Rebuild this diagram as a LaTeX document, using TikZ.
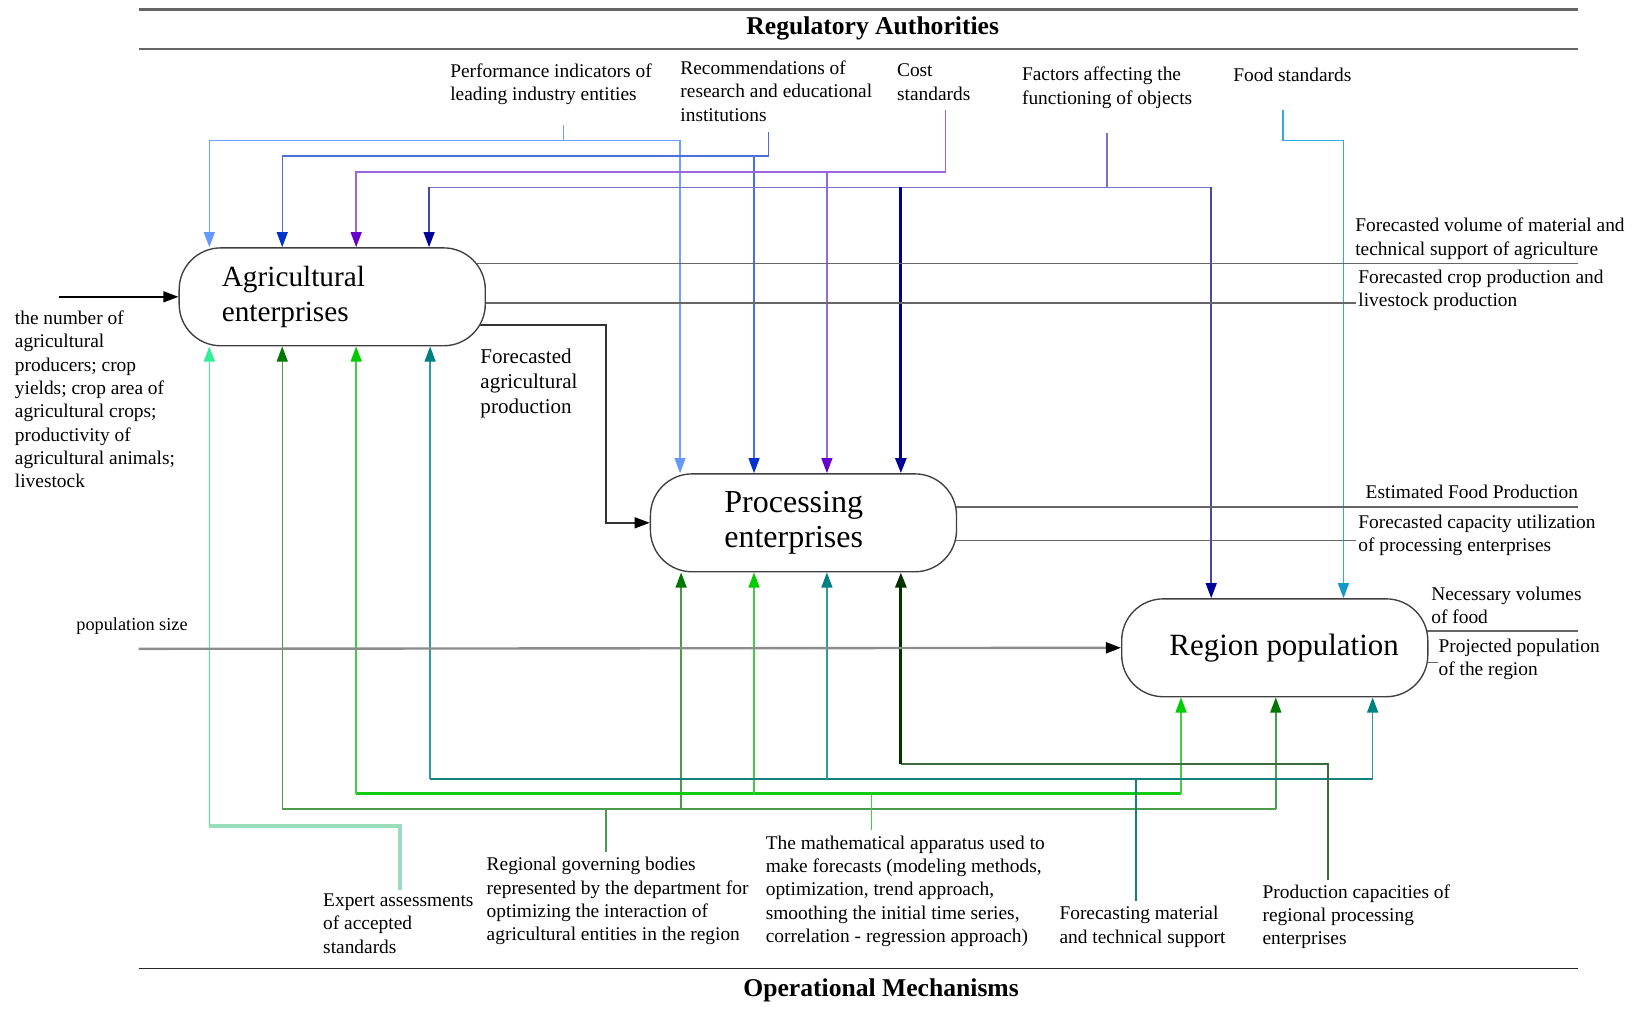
\documentclass[tikz,border=0pt]{standalone}
\usepackage{fontspec}
\setmainfont{Liberation Serif}
\usetikzlibrary{arrows.meta,backgrounds}
\definecolor{cPerf}{HTML}{6FA0FF}
\definecolor{cPerfA}{HTML}{6699FF}
\definecolor{cRec}{HTML}{4D6FD9}
\definecolor{cRecA}{HTML}{0033CC}
\definecolor{cCost}{HTML}{9966DD}
\definecolor{cCostA}{HTML}{6600CC}
\definecolor{cFacH}{HTML}{7575C8}
\definecolor{cFacV}{HTML}{4848A8}
\definecolor{cFacA}{HTML}{000099}
\definecolor{cFood}{HTML}{33AADD}
\definecolor{cFoodA}{HTML}{1199CC}
\definecolor{cExpV}{HTML}{44EE99}
\definecolor{cExpH}{HTML}{99DDBB}
\definecolor{cExpA}{HTML}{33EE99}
\definecolor{cRegn}{HTML}{4C9A4C}
\definecolor{cRegnA}{HTML}{007700}
\definecolor{cMath}{HTML}{11CC11}
\definecolor{cMathV}{HTML}{44CC44}
\definecolor{cMathA}{HTML}{00CC00}
\definecolor{cFor}{HTML}{118080}
\definecolor{cForV}{HTML}{339999}
\definecolor{cForA}{HTML}{008080}
\definecolor{cProd}{HTML}{3D6B3D}
\definecolor{cProdA}{HTML}{003300}
\begin{document}
\begin{tikzpicture}[x=0.02cm,y=-0.02cm,
  box/.style={draw=black!75, line width=0.75pt, fill=white, rounded corners=0.8cm,
    minimum width=5.88cm, minimum height=1.88cm, inner sep=0pt},
  lbl/.style={anchor=north west, align=left, inner sep=0pt, font=\fontsize{10.6}{12.75}\selectfont},
  titl/.style={inner sep=0pt, font=\fontsize{14}{16}\selectfont\bfseries},
  rulel/.style={draw=black!60, line width=1.3pt},
  outl/.style={draw=black!60, line width=0.9pt},
  con/.style={line width=0.8pt},
  arw/.style={-{Triangle[length=0.29cm,width=0.21cm,color=#1,fill=#1]}}
]
\useasboundingbox (0,0) rectangle (1568,968);

% rules and titles
\draw[rulel] (133,9) -- (1515,9);
\draw[rulel] (133,47) -- (1515,47);
\draw[draw=black!85, line width=1pt] (133,930) -- (1515,930);
\node[titl] (ttop) at (838,27) {Regulatory Authorities};
\node[titl] (tbot) at (846,951) {Operational Mechanisms};

% boxes
\node[box, text width=4.24cm, inner xsep=0.82cm, align=left,
  font=\fontsize{16}{18.8}\selectfont] (agr) at (319,285) {Agricultural\\enterprises};
\node[box, text width=3.04cm, inner xsep=1.42cm, align=left,
  font=\fontsize{17.5}{19.2}\selectfont] (proc) at (771.5,502) {Processing\\enterprises};
\node[box, font=\fontsize{16.9}{18}\selectfont] (reg) at (1224,622) {\hspace*{0.36cm}Region population};

% labels
\node[lbl] (lPerf) at (432,61) {Performance indicators of\\leading industry entities};
\node[lbl] (lRec) at (653,58) {Recommendations of\\research and educational\\institutions};
\node[lbl] (lCost) at (861,61) {Cost\\standards};
\node[lbl] (lFac) at (981,64) {Factors affecting the\\functioning of objects};
\node[lbl] (lFood) at (1184,65) {Food standards};
\node[lbl] (lR1) at (1301,209) {Forecasted volume of material and\\technical support of agriculture};
\node[lbl] (lR2) at (1304,259) {Forecasted crop production and\\livestock production};
\node[lbl] (lR3) at (1311,465) {Estimated Food Production};
\node[lbl] (lR4) at (1304,494) {Forecasted capacity utilization\\of processing enterprises};
\node[lbl] (lR5) at (1374,563) {Necessary volumes\\of food};
\node[lbl] (lR6) at (1381,613) {Projected population\\of the region};
\node[lbl] (lIn) at (14,298) {the number of\\agricultural\\producers; crop\\yields; crop area of\\agricultural crops;\\productivity of\\agricultural animals;\\livestock};
\node[lbl, font=\fontsize{10}{12}\selectfont] (lPop) at (73,593) {population size};
\node[lbl, font=\fontsize{11.5}{13.6}\selectfont] (lAP) at (461,335) {Forecasted\\agricultural\\production};
\node[lbl] (lExp) at (310,858) {Expert assessments\\of accepted\\standards};
\node[lbl] (lRegn) at (467,823) {Regional governing bodies\\represented by the department for\\optimizing the interaction of\\agricultural entities in the region};
\node[lbl] (lMath) at (735,802) {The mathematical apparatus used to\\make forecasts (modeling methods,\\optimization, trend approach,\\smoothing the initial time series,\\correlation - regression approach)};
\node[lbl] (lFor) at (1017,870) {Forecasting material\\and technical support};
\node[lbl] (lProd) at (1212,849) {Production capacities of\\regional processing\\enterprises};

% tap points and free ends
\coordinate (tPerf) at (541,120);
\coordinate (tRec) at (738,127);
\coordinate (tCost) at (908,106);
\coordinate (tFac) at (1063,128);
\coordinate (tFood) at (1232,106);
\coordinate (tExp) at (384,855);
\coordinate (tRegn) at (582,818);
\coordinate (tMath) at (837,797);
\coordinate (tFor) at (1091,865);
\coordinate (tProd) at (1275,845);
\coordinate (inAgr) at (57,285);
\coordinate (inPop) at (133,623);
\coordinate (oR1) at (1515,253);
\coordinate (oR2) at (1302,291);
\coordinate (oR3) at (1515,487);
\coordinate (oR4) at (1302,519);
\coordinate (oR5) at (1515,606);
\coordinate (oR6) at (1381,636);

\begin{scope}[on background layer]
% regulatory inputs
\draw[con,cPerf,arw=cPerfA] (tPerf) |- (201,135) -- (agr.north -| 201,0);
\draw[con,cPerf,arw=cPerfA] (tPerf) |- (653,135) -- (proc.north -| 653,0);
\draw[con,cRec,arw=cRecA] (tRec) |- (271,150) -- (agr.north -| 271,0);
\draw[con,cRec,arw=cRecA] (724,150) -- (proc.north -| 724,0);
\draw[con,cCost,arw=cCostA] (tCost) |- (342,165) -- (agr.north -| 342,0);
\draw[con,cCost,arw=cCostA] (794,165) -- (proc.north -| 794,0);
\draw[con,cFacH] (tFac) -- (1063,180);
\draw[con,cFacH] (412,180) -- (1163,180);
\draw[con,cFacV,arw=cFacA] (412,180) -- (agr.north -| 412,0);
\draw[cFacA,line width=1.6pt,arw=cFacA] (865,180) -- (proc.north -| 865,0);
\draw[con,cFacV,arw=cFacA] (1163,180) -- (reg.north -| 1163,0);
\draw[con,cFood,arw=cFoodA] (tFood) |- (1290,135) -- (reg.north -| 1290,0);

% mechanisms
\draw[cExpH,line width=2pt] (tExp) |- (201,793);
\draw[con,cExpV,arw=cExpA] (201,793) -- (agr.south -| 201,0);
\draw[cRegn,line width=1.2pt] (tRegn) -- (582,777);
\draw[cRegn,line width=1.3pt] (271,777) -- (1225,777);
\draw[con,cRegn,arw=cRegnA] (271,777) -- (agr.south -| 271,0);
\draw[con,cRegn,arw=cRegnA] (654,777) -- (proc.south -| 654,0);
\draw[con,cRegn,arw=cRegnA] (1225,777) -- (reg.south -| 1225,0);
\draw[cMathV,line width=0.8pt] (tMath) -- (837,762);
\draw[cMath,line width=1.6pt] (342,762) -- (1134,762);
\draw[con,cMathV,arw=cMathA] (342,762) -- (agr.south -| 342,0);
\draw[con,cMathV,arw=cMathA] (724,762) -- (proc.south -| 724,0);
\draw[con,cMathV,arw=cMathA] (1134,762) -- (reg.south -| 1134,0);
\draw[cFor,line width=1.2pt] (tFor) -- (1091,748);
\draw[cFor,line width=1.5pt] (413,748) -- (1318,748);
\draw[con,cForV,arw=cForA] (413,748) -- (agr.south -| 413,0);
\draw[con,cForV,arw=cForA] (794,748) -- (proc.south -| 794,0);
\draw[con,cForV,arw=cForA] (1318,748) -- (reg.south -| 1318,0);
\draw[cProd,line width=1.1pt] (tProd) |- (865,734);
\draw[cProdA,line width=1.6pt,arw=cProdA] (865,734) -- (proc.south -| 865,0);

% inputs
\draw[black,line width=0.9pt,arw=black] (inAgr) -- (agr.west);
\draw[black!45,line width=1.3pt,arw=black] (inPop) -- (reg.west);
\draw[black!80,line width=0.9pt,arw=black] (agr.center |- 0,312) -| (582,502) -- (proc.west);

% outputs
\draw[outl] (agr.center |- oR1) -- (oR1);
\draw[outl] (agr.center |- oR2) -- (oR2);
\draw[outl] (proc.center |- oR3) -- (oR3);
\draw[outl] (proc.center |- oR4) -- (oR4);
\draw[outl] (reg.center |- oR5) -- (oR5);
\draw[outl] (reg.center |- oR6) -- (oR6);
\end{scope}
\end{tikzpicture}
\end{document}
